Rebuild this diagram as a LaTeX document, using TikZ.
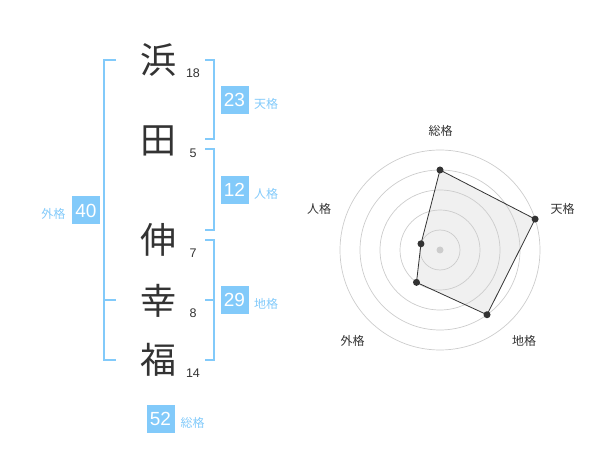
\documentclass[tikz,border=0pt]{standalone}
\usepackage{fontspec}
\setmainfont{Liberation Sans}
\newfontfamily\jp{Noto Sans CJK JP}
\definecolor{sky}{HTML}{82CAFA}
\definecolor{ink}{HTML}{333333}
\definecolor{ring}{HTML}{CCCCCC}
\tikzset{
  kanji/.style={font=\jp\fontsize{36}{36}\selectfont, text=ink, inner sep=0pt},
  strokes/.style={font=\fontsize{12.5}{12.5}\selectfont, text=ink, inner sep=0pt},
  score/.style={fill=sky, text=white, minimum size=28pt, inner sep=0pt, font=\fontsize{19}{19}\selectfont},
  kaku/.style={font=\jp\fontsize{12}{12}\selectfont, text=sky, inner sep=0pt},
  brace/.style={draw=sky, line width=2pt},
  axis/.style={font=\jp\fontsize{12}{12}\selectfont, text=ink, inner sep=0pt}
}
\begin{document}
\begin{tikzpicture}[x=1pt,y=-1pt]
\useasboundingbox (0,0) rectangle (600,470);
\node[kanji] (hama) at (158,60) {浜};
\node[kanji] (ta) at (158,141) {田};
\node[kanji] (shin) at (158,240) {伸};
\node[kanji] (kou) at (158,301) {幸};
\node[kanji] (fuku) at (158,360) {福};
\node[strokes] (n18) at (193,73) {18};
\node[strokes] (n5) at (193,153) {5};
\node[strokes] (n7) at (193,253) {7};
\node[strokes] (n8) at (193,313) {8};
\node[strokes] (n14) at (193,373) {14};

\draw[brace] (205,60) -- (214,60) -- (214,139) -- (205,139);
\draw[brace] (205,149) -- (214,149) -- (214,230) -- (205,230);
\draw[brace] (205,240) -- (214,240) -- (214,360) -- (205,360);
\draw[brace] (205,300) -- (214,300);
\draw[brace] (116,60) -- (104,60) -- (104,360) -- (116,360);
\draw[brace] (104,300) -- (116,300);

\node[score] (ten) at (234.5,100) {23};
\node[kaku] (tenL) at (266,104) {天格};
\node[score] (jin) at (234.5,190) {12};
\node[kaku] (jinL) at (266,194) {人格};
\node[score] (chi) at (234.5,300) {29};
\node[kaku] (chiL) at (266,304) {地格};
\node[score] (gai) at (86,210.5) {40};
\node[kaku] (gaiL) at (53.5,213.5) {外格};
\node[score] (sou) at (160.5,419) {52};
\node[kaku] (souL) at (192.5,422.5) {総格};

\begin{scope}[shift={(440,250)}, yscale=-1]
\coordinate (O) at (0,0);
\coordinate (P1) at (90:80);
\coordinate (P2) at (18:100);
\coordinate (P3) at (-54:80);
\coordinate (P4) at (-126:40);
\coordinate (P5) at (162:20);
\fill[black!6] (P1) -- (P2) -- (P3) -- (P4) -- (P5) -- cycle;
\foreach \r in {20,40,...,100}
  \draw[ring, line width=0.7pt] (O) circle (\r);
\draw[ink, line width=0.8pt] (P1) -- (P2) -- (P3) -- (P4) -- (P5) -- cycle;
\foreach \p in {P1,P2,P3,P4,P5}
  \fill[ink] (\p) circle (3.5);
\fill[ring] (O) circle (3.5);
\end{scope}
\node[axis] (aSou) at (440.5,130.5) {総格};
\node[axis] (aTen) at (562.5,208.5) {天格};
\node[axis] (aChi) at (524,341) {地格};
\node[axis] (aGai) at (352.5,341) {外格};
\node[axis] (aJin) at (319,208.5) {人格};
\end{tikzpicture}
\end{document}
